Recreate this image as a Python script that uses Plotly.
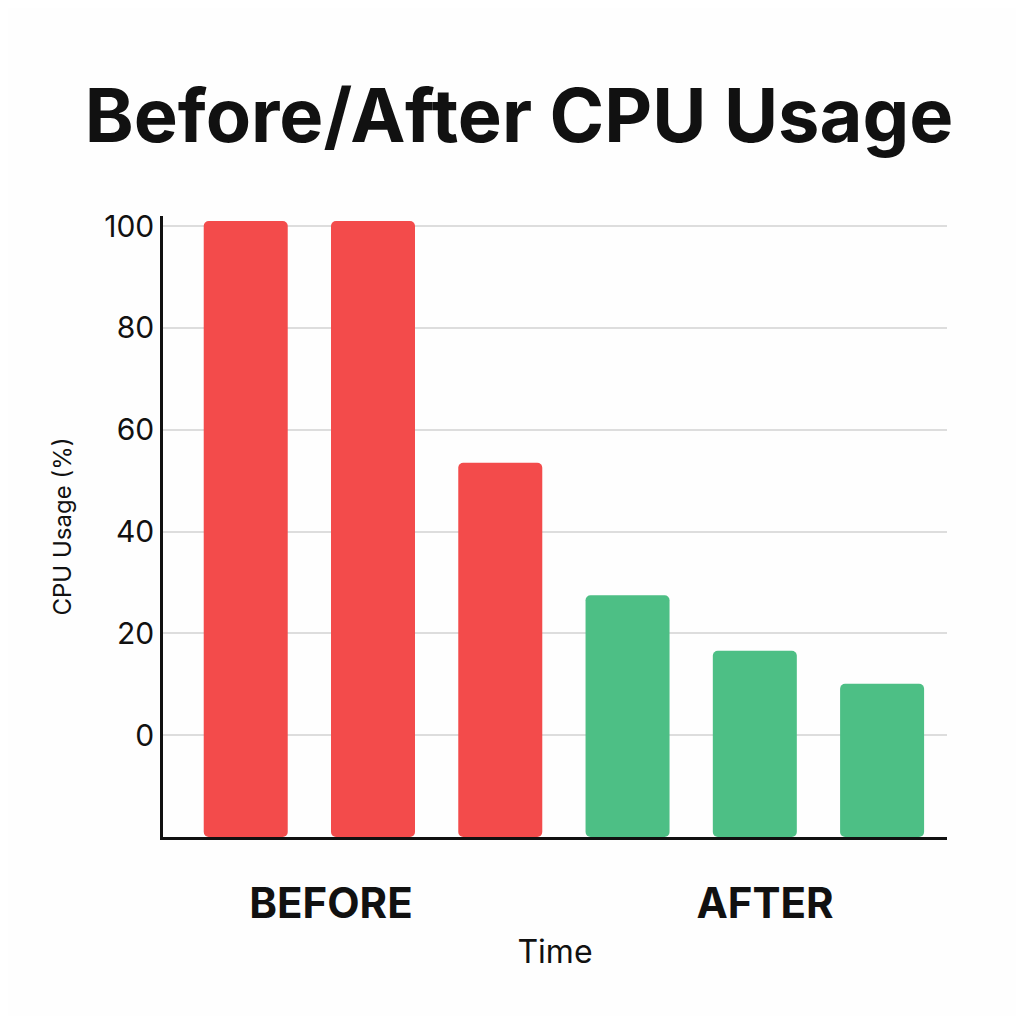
import plotly.graph_objects as go

phases = ["before", "before", "before", "after", "after", "after"]
cpu_usage = [101, 101, 53.5, 27.5, 16.6, 10.1]
axis_floor = -20
tick_vals = [0, 20, 40, 60, 80, 100]
group_labels = ["BEFORE", "AFTER"]
group_pos = [0.67, 4.08]

colors = ["#F34B4B" if p == "before" else "#4DBF85" for p in phases]

fig = go.Figure(go.Bar(
    x=list(range(len(cpu_usage))),
    y=[v - axis_floor for v in cpu_usage],
    base=axis_floor,
    width=0.66,
    marker=dict(color=colors, line=dict(width=0)),
))

fig.update_layout(
    paper_bgcolor="#FEFEFE", plot_bgcolor="#FEFEFE",
    margin=dict(l=155, r=69, t=208, b=179),
    barcornerradius=5,
    showlegend=False,
    font=dict(family="Inter, Roboto, sans-serif", color="#111"),
    title=dict(text="<b>Before/After CPU Usage</b>", x=0.507, xanchor="center",
               y=0.893, yanchor="middle", font=dict(size=74, color="#111")),
)
fig.update_yaxes(
    range=[axis_floor, 102], tickvals=tick_vals, tickfont=dict(size=30),
    showgrid=True, gridcolor="#DDDDDD", gridwidth=1.5, zeroline=False,
    showline=True, linecolor="#111", linewidth=2.5, ticks="",
    title=dict(text="CPU Usage (%)", font=dict(size=24), standoff=26),
)
fig.update_xaxes(
    range=[-0.65, 5.51], tickvals=group_pos, ticktext=[f"<b>{t}</b>" for t in group_labels],
    tickfont=dict(size=42), showgrid=False, zeroline=False,
    showline=True, linecolor="#111", linewidth=2.5, ticks="outside", ticklen=28,
    tickcolor="rgba(0,0,0,0)",
    title=dict(text="Time", font=dict(size=32), standoff=14),
)

fig.write_html("out.html")
